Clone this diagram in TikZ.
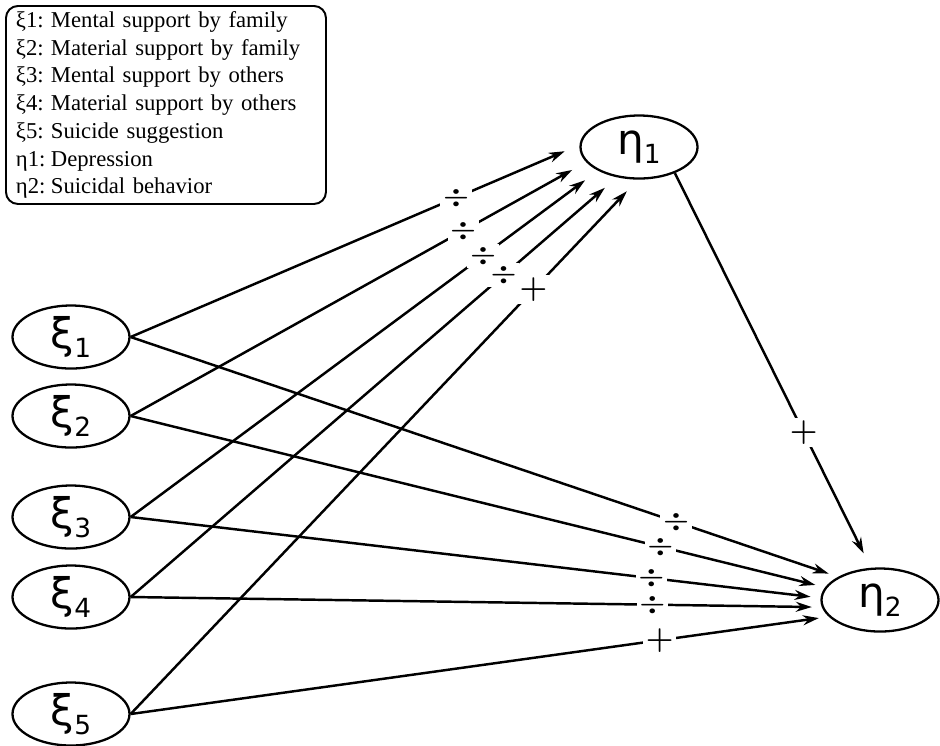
\documentclass[tikz,border=0pt]{standalone}
\usepackage{fontspec}
\setmainfont{Liberation Serif}
\newfontfamily\symfont{DejaVu Sans}
\usetikzlibrary{arrows.meta,shapes.geometric}

% latent variable with a lowered index
\newcommand{\lvar}[2]{{\symfont\fontsize{24}{24}\selectfont #1\raisebox{-5pt}{\fontsize{15}{15}\selectfont #2}}}
% signs of the effects
\newcommand{\negsign}{\scalebox{1.15}[1]{$\div$}}
\newcommand{\possign}{\scalebox{1.25}{$+$}}

\tikzset{
  latent/.style={draw, ellipse, line width=1.3pt, minimum width=23.4mm, minimum height=12.6mm, inner sep=0pt},
  effect/.style={line width=1.4pt, -{Stealth[length=3.2mm, width=2mm]}},
  sign/.style={fill=white, inner sep=1.5pt, font=\fontsize{14.5}{14.5}\selectfont\boldmath}
}

\begin{document}
\begin{tikzpicture}[x=0.2mm, y=-0.2mm]
    \useasboundingbox (0,0) rectangle (940,745);

    % Legend
    \node[draw, rounded corners=2.4mm, line width=1.1pt, anchor=north west,
          text width=60mm, inner xsep=2mm, inner ysep=0pt, minimum height=39.6mm,
          align=left, font=\fontsize{12.9}{15.8}\selectfont] (legend) at (5,5) {%
        \makebox[7mm][l]{ξ1:}Mental support by family\\
        \makebox[7mm][l]{ξ2:}Material support by family\\
        \makebox[7mm][l]{ξ3:}Mental support by others\\
        \makebox[7mm][l]{ξ4:}Material support by others\\
        \makebox[7mm][l]{ξ5:}Suicide suggestion\\
        \makebox[7mm][l]{η1:}Depression\\
        \makebox[7mm][l]{η2:}Suicidal behavior};

    % Exogenous variables
    \foreach \i/\y in {1/337, 2/416, 3/517, 4/597, 5/714}
        \node[latent] (xi\i) at (71,\y) {\lvar{ξ}{\i}};

    % Endogenous variables
    \node[latent] (eta1) at (639,147) {\lvar{η}{1}};
    \node[latent] (eta2) at (880,600) {\lvar{η}{2}};

    % Effects on depression
    \foreach \i/\a/\p/\sgn in {1/178/0.725/\negsign, 2/196/0.73/\negsign, 3/210/0.754/\negsign, 4/234/0.767/\negsign, 5/268/0.794/\possign}
        \draw[effect, shorten >=3.2mm] (xi\i.east) -- (eta1.\a) node[sign, pos=\p] {\sgn};

    % Effects on suicidal behavior
    \foreach \i/\a/\p/\sgn in {1/151/0.771/\negsign, 2/167/0.763/\negsign, 3/178/0.755/\negsign, 4/187/0.755/\negsign, 5/198/0.758/\possign}
        \draw[effect, shorten >=2mm] (xi\i.east) -- (eta2.\a) node[sign, pos=\p] {\sgn};

    % Depression -> suicidal behavior
    \draw[effect, shorten >=3.2mm] (eta1.324) -- (eta2.106) node[sign, pos=0.657] {\possign};
\end{tikzpicture}
\end{document}
